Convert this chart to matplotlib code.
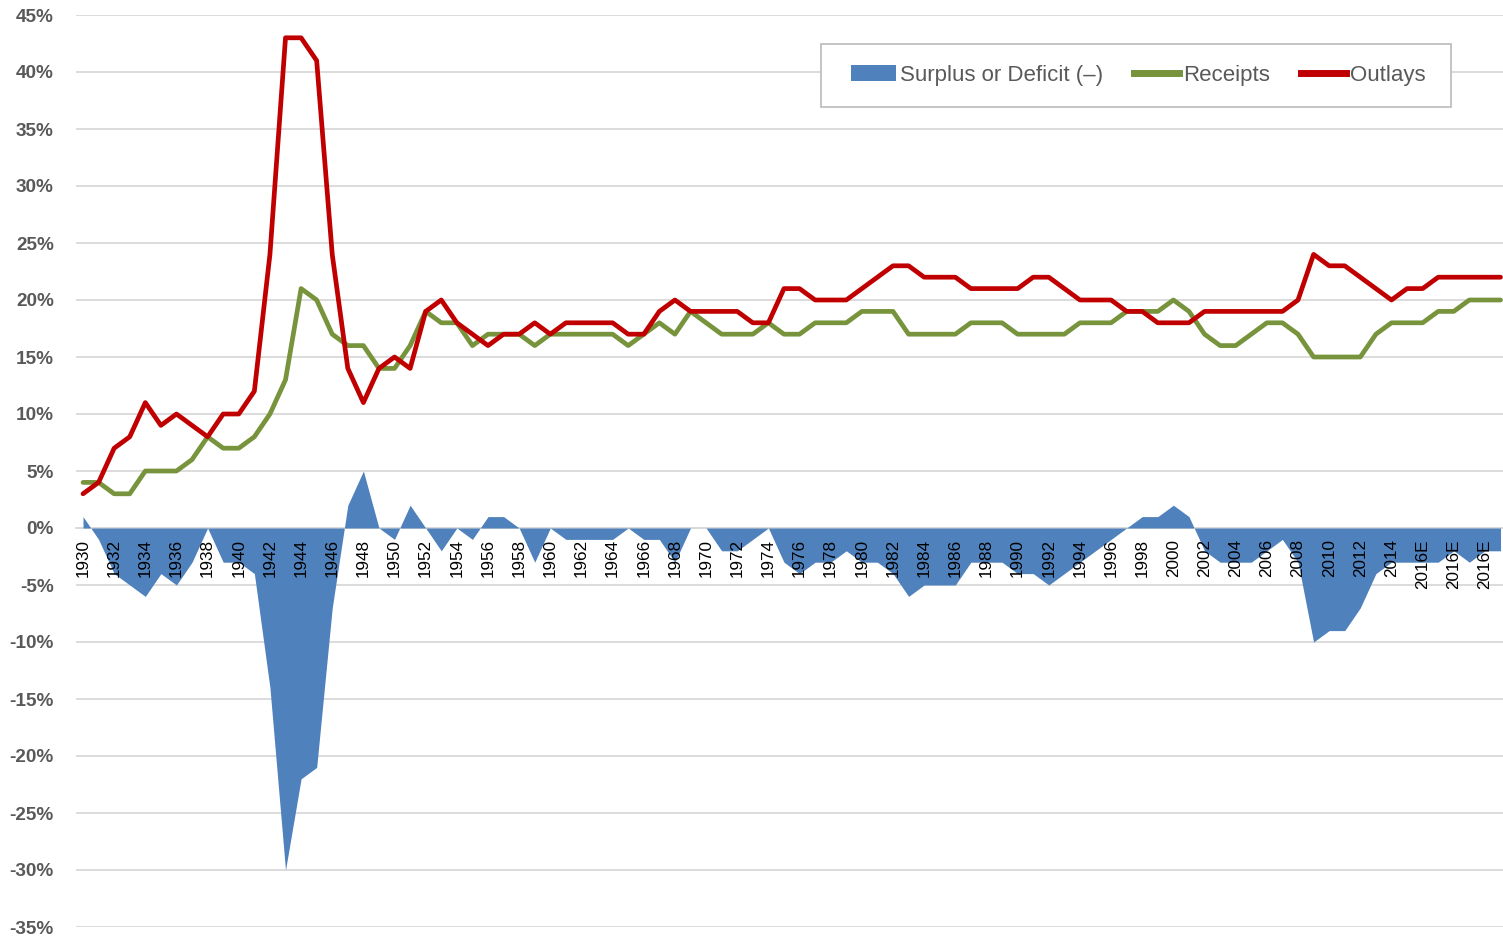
import numpy as np
import matplotlib
matplotlib.use("Agg")
import matplotlib.pyplot as plt
from matplotlib.patches import Rectangle, Patch
from matplotlib.lines import Line2D

plt.rcParams['font.family'] = ['Liberation Sans', 'DejaVu Sans']

# ---------------- data ----------------
categories = [str(y) for y in range(1930, 2016)] + ['2016E'] * 6

receipts = [4, 4, 3, 3, 5, 5, 5, 6, 8, 7,
            7, 8, 10, 13, 21, 20, 17, 16, 16, 14,
            14, 16, 19, 18, 18, 16, 17, 17, 17, 16,
            17, 17, 17, 17, 17, 16, 17, 18, 17, 19,
            18, 17, 17, 17, 18, 17, 17, 18, 18, 18,
            19, 19, 19, 17, 17, 17, 17, 18, 18, 18,
            17, 17, 17, 17, 18, 18, 18, 19, 19, 19,
            20, 19, 17, 16, 16, 17, 18, 18, 17, 15,
            15, 15, 15, 17, 18, 18, 18, 19, 19, 20,
            20, 20]

outlays = [3, 4, 7, 8, 11, 9, 10, 9, 8, 10,
           10, 12, 24, 43, 43, 41, 24, 14, 11, 14,
           15, 14, 19, 20, 18, 17, 16, 17, 17, 18,
           17, 18, 18, 18, 18, 17, 17, 19, 20, 19,
           19, 19, 19, 18, 18, 21, 21, 20, 20, 20,
           21, 22, 23, 23, 22, 22, 22, 21, 21, 21,
           21, 22, 22, 21, 20, 20, 20, 19, 19, 18,
           18, 18, 19, 19, 19, 19, 19, 19, 20, 24,
           23, 23, 22, 21, 20, 21, 21, 22, 22, 22,
           22, 22]

surplus = [1, -1, -4, -5, -6, -4, -5, -3, 0, -3,
           -3, -4, -14, -30, -22, -21, -7, 2, 5, 0,
           -1, 2, 0, -2, 0, -1, 1, 1, 0, -3,
           0, -1, -1, -1, -1, 0, -1, -1, -3, 0,
           0, -2, -2, -1, 0, -3, -4, -3, -3, -2,
           -3, -3, -4, -6, -5, -5, -5, -3, -3, -3,
           -4, -4, -5, -4, -3, -2, -1, 0, 1, 1,
           2, 1, -2, -3, -3, -3, -2, -1, -3, -10,
           -9, -9, -7, -4, -3, -3, -3, -3, -2, -3,
           -2, -2]

series_names = ['Surplus or Deficit (\u2013)', 'Receipts', 'Outlays']
yticks = list(range(-35, 50, 5))

# ---------------- figure ----------------
W, H = 1503, 936
fig = plt.figure(figsize=(W / 100, H / 100), dpi=100)
ax = fig.add_axes([76 / W, 9 / H, (W - 76) / W, (927 - 15) / H])

x = np.arange(len(categories))
ax.fill_between(x, 0, surplus, color='#4F81BD', linewidth=0, zorder=2)
ax.plot(x, receipts, color='#77933C', lw=3.4, zorder=3,
        solid_joinstyle='round', solid_capstyle='round')
ax.plot(x, outlays, color='#C00000', lw=3.4, zorder=4,
        solid_joinstyle='round', solid_capstyle='round')

# spines first (repositioning resets ticks)
for s in ['top', 'right', 'left']:
    ax.spines[s].set_visible(False)
ax.spines['bottom'].set_position(('data', 0))
ax.spines['bottom'].set_color('#D9D9D9')
ax.spines['bottom'].set_linewidth(1.3)
ax.spines['bottom'].set_zorder(1)

ax.set_xlim(-0.45, 91.16)
ax.set_ylim(-35, 45)

ax.set_yticks(yticks)
ax.set_yticklabels([f"{v}%" for v in yticks], fontweight='bold')

ax.set_xticks(x[::2])
ax.set_xticklabels([categories[i] for i in range(0, len(categories), 2)])

ax.grid(axis='y', color='#D9D9D9', lw=1.3)
ax.grid(axis='x', visible=False)
ax.set_axisbelow(True)
ax.xaxis.set_zorder(6)   # year labels drawn over the area

ax.tick_params(axis='x', length=0, pad=8, labelsize=12.3, labelcolor='black',
               labelrotation=90)
ax.tick_params(axis='y', length=0, pad=16, labelsize=13.7, labelcolor='#595959')

# legend
fig.add_artist(Rectangle((821 / W, 1 - 107 / H), 630 / W, 63 / H,
                         transform=fig.transFigure, facecolor='white',
                         edgecolor='#BFBFBF', lw=1.3, zorder=4))
handles = [Patch(facecolor='#4F81BD', edgecolor='none'),
           Line2D([], [], color='#77933C', lw=5),
           Line2D([], [], color='#C00000', lw=5)]
fig.legend(handles, series_names, loc='center',
           bbox_to_anchor=(1138.5 / W, 1 - 75.5 / H), bbox_transform=fig.transFigure,
           ncol=3, frameon=False, fontsize=16, labelcolor='#595959',
           handlelength=2.0, handleheight=0.75, handletextpad=0.2, columnspacing=1.4)

fig.savefig('out.png', dpi=100)
